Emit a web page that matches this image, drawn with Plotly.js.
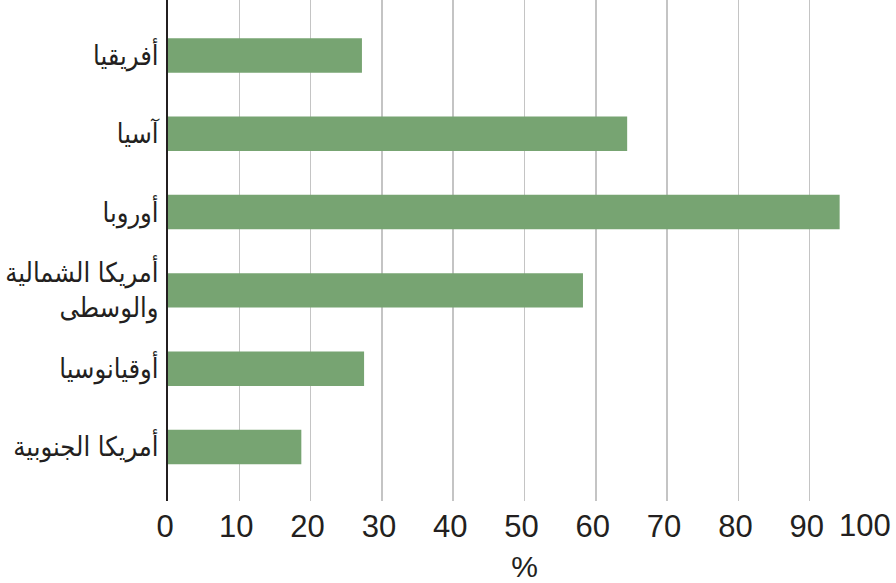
<!DOCTYPE html>
<html>
<head>
<meta charset="utf-8">
<script src="https://cdn.plot.ly/plotly-3.0.1.min.js"></script>
<style>html,body{margin:0;padding:0;background:#fff;}#chart{width:896px;height:583px;}</style>
</head>
<body>
<div id="chart"></div>
<script>
const categories = ["أفريقيا", "آسيا", "أوروبا", "أمريكا الشمالية<br>والوسطى", "أوقيانوسيا", "أمريكا الجنوبية"];
const values = [27.2, 64.4, 94.2, 58.2, 27.5, 18.7];
const xTicks = [0, 10, 20, 30, 40, 50, 60, 70, 80, 90, 100];
const xTickText = ["0", "10", "20", "30", "40", "50", "60", "70", "80", "90", "100"];

const latinFont = "Liberation Sans, Arial, DejaVu Sans, sans-serif";
const arabicFont = "DejaVu Sans Condensed, DejaVu Sans, sans-serif";
const lastIdx = xTicks.length - 1;

const trace = {
  type: "bar",
  orientation: "h",
  y: categories,
  x: values,
  width: 0.44,
  marker: {color: "#77a472"},
  hoverinfo: "x+y"
};

const layout = {
  width: 896,
  height: 583,
  margin: {l: 168, r: 15, t: 0, b: 82},
  paper_bgcolor: "#ffffff",
  plot_bgcolor: "#ffffff",
  showlegend: false,
  font: {family: latinFont, color: "#231f20"},
  xaxis: {
    range: [0, 100],
    tickvals: xTicks,
    ticktext: xTickText.map((t, i) => i === lastIdx ? "" : t),
    ticks: "",
    ticklabelshift: -3,
    ticklabelstandoff: 4,
    showgrid: true,
    gridcolor: "#c4c4c4",
    gridwidth: 1.5,
    zeroline: false,
    showline: false,
    tickfont: {size: 31, family: latinFont, color: "#231f20"},
    title: {text: "%", font: {size: 30, family: latinFont, color: "#231f20"}, standoff: 16},
    fixedrange: true
  },
  yaxis: {
    type: "category",
    range: [5.69, -0.709],
    ticks: "",
    showgrid: false,
    zeroline: false,
    showline: true,
    linecolor: "#231f20",
    linewidth: 2,
    tickfont: {size: 27, family: arabicFont, color: "#231f20"},
    ticklabelstandoff: 2,
    fixedrange: true
  },
  annotations: [{
    x: xTicks[lastIdx],
    xref: "x",
    y: 0,
    yref: "paper",
    xanchor: "right",
    yanchor: "top",
    xshift: 12,
    yshift: -5,
    showarrow: false,
    text: xTickText[lastIdx],
    font: {size: 31, family: latinFont, color: "#231f20"}
  }]
};

Plotly.newPlot("chart", [trace], layout, {displayModeBar: false, staticPlot: true});
</script>
</body>
</html>
